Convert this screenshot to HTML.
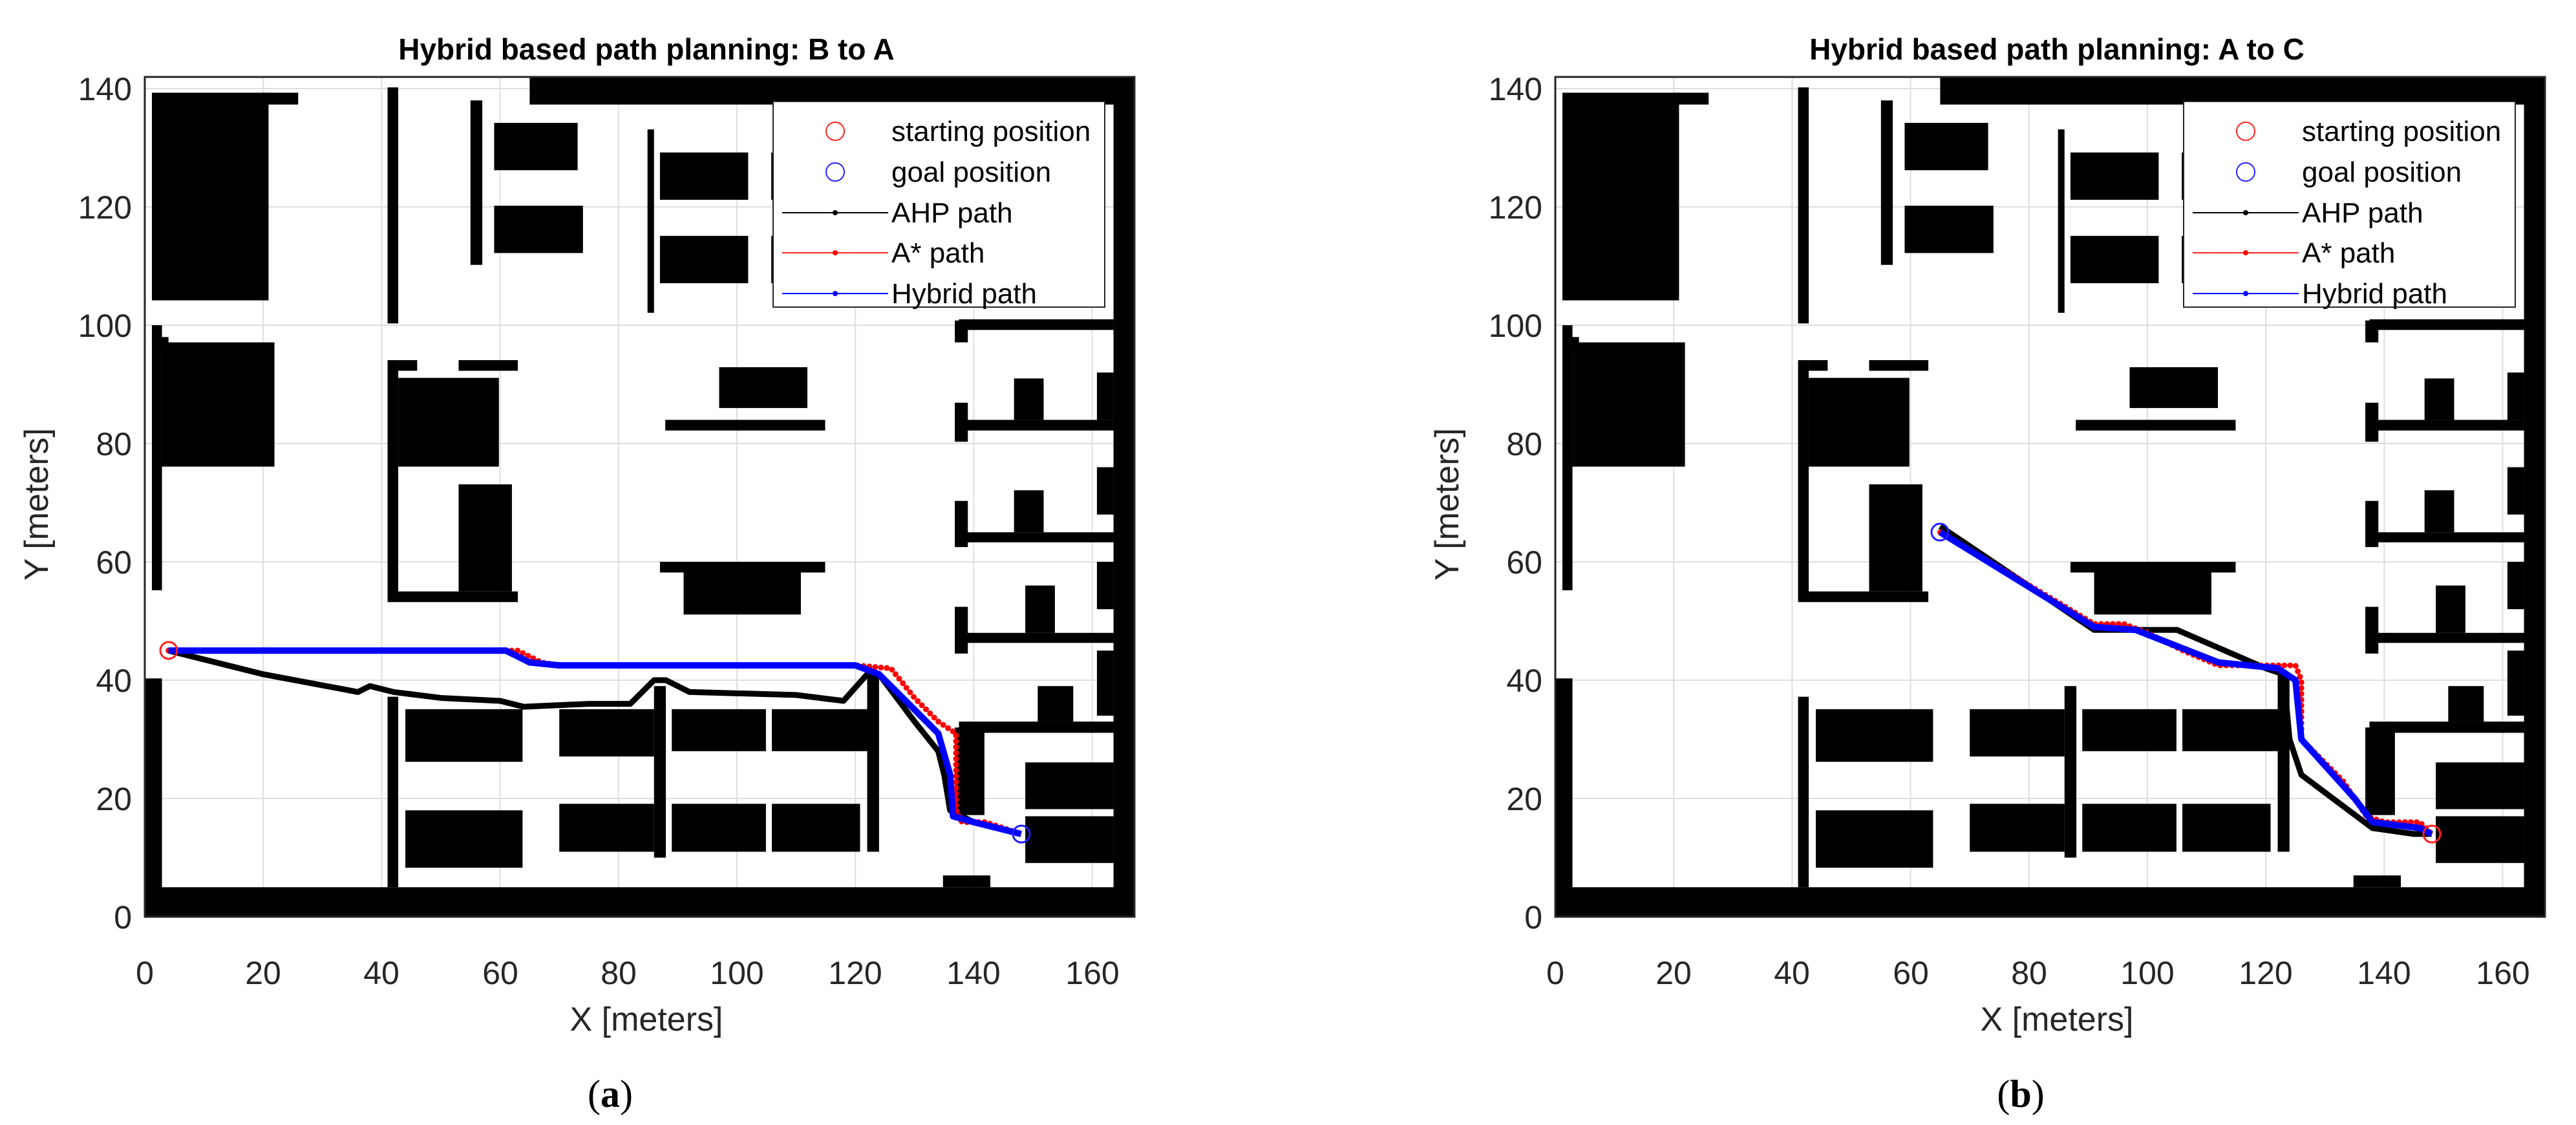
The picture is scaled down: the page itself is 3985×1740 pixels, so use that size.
<!DOCTYPE html>
<html><head><meta charset="utf-8"><style>
html,body{margin:0;padding:0;background:#fff;}
svg{display:block;font-family:"Liberation Sans",Arial,sans-serif;}
</style></head><body>
<svg width="3985" height="1740" viewBox="0 0 3985 1740" xmlns="http://www.w3.org/2000/svg">
<defs>
<g id="grid" stroke="#dedede" stroke-width="2">
<line x1="20" y1="0" x2="20" y2="142" vector-effect="non-scaling-stroke"/><line x1="40" y1="0" x2="40" y2="142" vector-effect="non-scaling-stroke"/><line x1="60" y1="0" x2="60" y2="142" vector-effect="non-scaling-stroke"/><line x1="80" y1="0" x2="80" y2="142" vector-effect="non-scaling-stroke"/><line x1="100" y1="0" x2="100" y2="142" vector-effect="non-scaling-stroke"/><line x1="120" y1="0" x2="120" y2="142" vector-effect="non-scaling-stroke"/><line x1="140" y1="0" x2="140" y2="142" vector-effect="non-scaling-stroke"/><line x1="160" y1="0" x2="160" y2="142" vector-effect="non-scaling-stroke"/>
<line x1="0" y1="20" x2="167" y2="20" vector-effect="non-scaling-stroke"/><line x1="0" y1="40" x2="167" y2="40" vector-effect="non-scaling-stroke"/><line x1="0" y1="60" x2="167" y2="60" vector-effect="non-scaling-stroke"/><line x1="0" y1="80" x2="167" y2="80" vector-effect="non-scaling-stroke"/><line x1="0" y1="100" x2="167" y2="100" vector-effect="non-scaling-stroke"/><line x1="0" y1="120" x2="167" y2="120" vector-effect="non-scaling-stroke"/><line x1="0" y1="140" x2="167" y2="140" vector-effect="non-scaling-stroke"/>
</g>
<g id="map" fill="#000">
<rect x="0" y="0" width="167.2" height="5"/><rect x="163.6" y="0" width="3.6" height="142"/><rect x="65" y="137.3" width="102.2" height="4.7"/>
<rect x="0" y="0" width="2.9" height="40.3"/><rect x="1.2" y="55.2" width="1.7" height="44.8"/><rect x="1.2" y="96" width="2.8" height="2"/>
<rect x="1.2" y="104.2" width="19.7" height="35.1"/><rect x="20" y="137.3" width="5.9" height="2"/><rect x="2.9" y="76.1" width="19" height="21"/>
<rect x="41" y="100.3" width="1.8" height="39.9"/><rect x="41" y="53.2" width="1.8" height="40.9"/><rect x="41" y="5" width="1.8" height="32.2"/>
<rect x="42.8" y="92.3" width="3.2" height="1.8"/><rect x="53" y="92.3" width="10" height="1.8"/><rect x="42.8" y="76.1" width="17" height="15"/>
<rect x="53" y="55" width="9" height="18.1"/><rect x="42.8" y="53.2" width="20.2" height="1.8"/>
<rect x="55" y="110.2" width="2" height="27.8"/><rect x="59" y="126.2" width="14.1" height="8"/><rect x="59" y="112.2" width="15" height="8"/>
<rect x="84.9" y="102.1" width="1.1" height="31"/><rect x="87" y="121.2" width="14.9" height="8"/><rect x="87" y="107.1" width="14.9" height="8"/>
<rect x="105.8" y="121.2" width="0.7" height="8"/><rect x="105.8" y="107.1" width="0.7" height="8"/>
<rect x="97" y="86" width="14.9" height="6.9"/><rect x="87.9" y="82.2" width="27" height="1.8"/><rect x="87" y="58.2" width="27.9" height="1.8"/><rect x="91" y="51.1" width="19.8" height="7.1"/>
<rect x="44" y="26.2" width="19.8" height="8.9"/><rect x="70" y="27.1" width="16" height="8"/><rect x="89" y="28" width="15.9" height="7.1"/><rect x="105.9" y="28" width="16.1" height="7.1"/>
<rect x="44" y="8.3" width="19.8" height="9.7"/><rect x="70" y="11" width="16" height="8.1"/><rect x="89" y="11" width="15.9" height="8.1"/><rect x="105.9" y="11" width="14.9" height="8.1"/>
<rect x="86" y="10" width="2" height="29"/><rect x="122" y="11" width="2" height="30"/>
<rect x="136.8" y="97.1" width="2.2" height="3.7"/><rect x="137.5" y="99.2" width="26.1" height="1.8"/>
<rect x="136.8" y="80.3" width="2.2" height="6.6"/><rect x="137.5" y="82.2" width="26.1" height="1.8"/><rect x="146.8" y="84" width="5" height="7"/><rect x="160.8" y="84" width="2.8" height="8"/>
<rect x="136.8" y="62.5" width="2.2" height="7.8"/><rect x="137.5" y="63.3" width="26.1" height="1.7"/><rect x="146.8" y="65" width="5" height="7.1"/><rect x="160.8" y="68" width="2.8" height="8"/>
<rect x="136.8" y="44.5" width="2.2" height="7.9"/><rect x="137.5" y="46.3" width="26.1" height="1.7"/><rect x="148.7" y="48" width="5" height="8"/><rect x="160.8" y="52" width="2.8" height="8"/><rect x="160.8" y="34" width="2.8" height="11"/>
<rect x="150.8" y="33" width="6" height="6"/><rect x="137.5" y="31.1" width="26.1" height="1.9"/><rect x="136.8" y="17.2" width="5" height="14.8"/>
<rect x="148.7" y="18.2" width="14.9" height="7.9"/><rect x="148.7" y="9.1" width="14.9" height="7.9"/><rect x="134.8" y="5" width="8" height="2"/>
</g>
<g id="ticks" font-size="50" fill="#262626">
<text x="0" y="1522" text-anchor="middle">0</text><text x="183" y="1522" text-anchor="middle">20</text><text x="366" y="1522" text-anchor="middle">40</text><text x="550" y="1522" text-anchor="middle">60</text><text x="733" y="1522" text-anchor="middle">80</text><text x="916" y="1522" text-anchor="middle">100</text><text x="1099" y="1522" text-anchor="middle">120</text><text x="1282" y="1522" text-anchor="middle">140</text><text x="1466" y="1522" text-anchor="middle">160</text>
<g text-anchor="end"><text x="-20" y="1436">0</text><text x="-20" y="1253">20</text><text x="-20" y="1070">40</text><text x="-20" y="887">60</text><text x="-20" y="704">80</text><text x="-20" y="521">100</text><text x="-20" y="338">120</text><text x="-20" y="155">140</text></g>
</g>
<g id="legend">
<rect x="972" y="157" width="513" height="318" fill="#fff" stroke="#262626" stroke-width="2"/>
<circle cx="1068" cy="203" r="14" fill="none" stroke="#ff2020" stroke-width="2"/>
<circle cx="1068" cy="266" r="14" fill="none" stroke="#2020ff" stroke-width="2"/>
<line x1="986" y1="329" x2="1150" y2="329" stroke="#000" stroke-width="2"/><circle cx="1068" cy="329" r="4" fill="#000"/>
<line x1="986" y1="391" x2="1150" y2="391" stroke="#ff2020" stroke-width="2"/><circle cx="1068" cy="391" r="4" fill="#ff0000"/>
<line x1="986" y1="454" x2="1150" y2="454" stroke="#0000ff" stroke-width="2"/><circle cx="1068" cy="454" r="4" fill="#0000ff"/>
<g font-size="44" fill="#000"><text x="1155" y="218">starting position</text><text x="1155" y="281">goal position</text><text x="1155" y="344">AHP path</text><text x="1155" y="406">A* path</text><text x="1155" y="469">Hybrid path</text></g>
</g>
</defs>

<!-- Panel A -->
<g transform="translate(224,0)">
<g transform="translate(0,1418) scale(9.16,-9.15)"><use href="#grid"/><use href="#map"/>
<polyline fill="none" stroke="#000" stroke-width="9" vector-effect="non-scaling-stroke" stroke-linejoin="round" points="4,45 20,41 36,38 38,39 42,38 50,37 60,36.5 64,35.5 75,36 82,36 86,40 88,40 92,38 110,37.5 118,36.5 122,41 124,41 130,33 134,28 135,24 136,18 140,16 148,14"/>
<polyline fill="none" stroke="#ff0000" stroke-width="9" stroke-linecap="round" stroke-dasharray="0 9" vector-effect="non-scaling-stroke" points="4,45 63,45 65,44 67,43 70,42.5 120,42.5 126,42 130,37 134,33 137,31 137,18 138,16 142,16 148,14"/>
<polyline fill="none" stroke="#0000ff" stroke-width="10" vector-effect="non-scaling-stroke" stroke-linejoin="round" points="4,45 61,45 65,43 70,42.5 120,42.5 124,41 134,31 136,24 136.5,17 140,16 148,14"/>
</g>
<circle cx="37" cy="1006" r="13" fill="none" stroke="#ff2020" stroke-width="3"/>
<circle cx="1356" cy="1290" r="13" fill="none" stroke="#2020ff" stroke-width="3"/>
<rect x="0" y="119" width="1531" height="1299" fill="none" stroke="#262626" stroke-width="3"/>
<use href="#ticks"/><use href="#legend"/>
<text x="776" y="92" font-size="46" font-weight="bold" text-anchor="middle">Hybrid based path planning: B to A</text>
<text x="776" y="1594" font-size="52" fill="#262626" text-anchor="middle">X [meters]</text>
<text transform="translate(-150,780) rotate(-90)" font-size="52" fill="#262626" text-anchor="middle">Y [meters]</text>
<text x="720" y="1712" font-size="60" text-anchor="middle" font-family="Liberation Serif,serif">(<tspan font-weight="bold">a</tspan>)</text>
</g>

<!-- Panel B -->
<g transform="translate(2406,0)">
<g transform="translate(0,1418) scale(9.16,-9.15)"><use href="#grid"/><use href="#map"/>
<polyline fill="none" stroke="#000" stroke-width="9" vector-effect="non-scaling-stroke" stroke-linejoin="round" points="65,66 91,48.5 105,48.5 120,42 123,41 124,30 126,24 130,21 138,15 145,14 148,14"/>
<polyline fill="none" stroke="#ff0000" stroke-width="9" stroke-linecap="round" stroke-dasharray="0 9" vector-effect="non-scaling-stroke" points="65,65 91,49.5 96,49.5 100,48 106,45 112,42.5 120,42.5 125,42.5 126,40 126,30 133,23 137,17 140,16 146,16 148,14"/>
<polyline fill="none" stroke="#0000ff" stroke-width="10" vector-effect="non-scaling-stroke" stroke-linejoin="round" points="65,65 91,49 98,48.5 112,43 122,42 125,40 126,30 135,20 138,16 146,15 148,14"/>
</g>
<circle cx="1356" cy="1290" r="13" fill="none" stroke="#ff2020" stroke-width="3"/>
<circle cx="595" cy="823" r="13" fill="none" stroke="#2020ff" stroke-width="3"/>
<rect x="0" y="119" width="1531" height="1299" fill="none" stroke="#262626" stroke-width="3"/>
<use href="#ticks"/><use href="#legend"/>
<text x="776" y="92" font-size="46" font-weight="bold" text-anchor="middle">Hybrid based path planning: A to C</text>
<text x="776" y="1594" font-size="52" fill="#262626" text-anchor="middle">X [meters]</text>
<text transform="translate(-150,780) rotate(-90)" font-size="52" fill="#262626" text-anchor="middle">Y [meters]</text>
<text x="720" y="1712" font-size="60" text-anchor="middle" font-family="Liberation Serif,serif">(<tspan font-weight="bold">b</tspan>)</text>
</g>
</svg>
</body></html>
